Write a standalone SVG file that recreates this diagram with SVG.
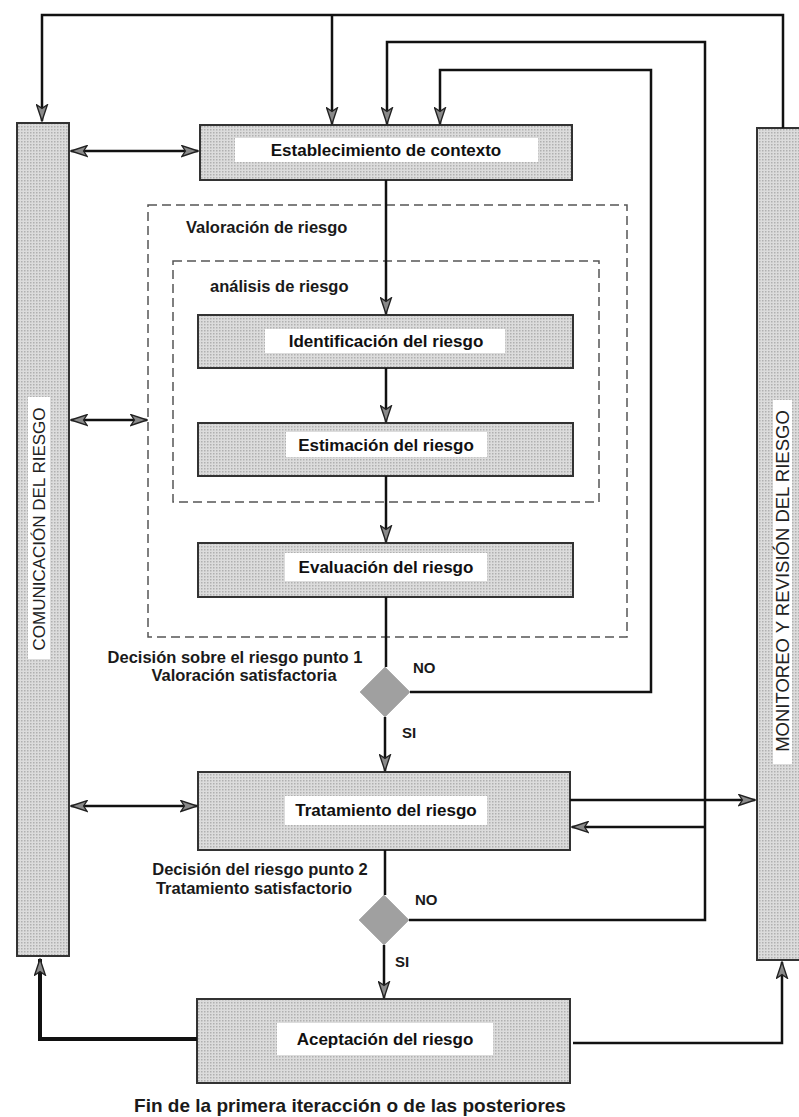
<svg xmlns="http://www.w3.org/2000/svg" width="799" height="1117" viewBox="0 0 799 1117">
<defs>
<pattern id="dots" width="3" height="3" patternUnits="userSpaceOnUse">
<rect width="3" height="3" fill="#dcdcdc"/>
<rect width="1.5" height="1.5" fill="#b0b0b0"/>
</pattern>
<marker id="ah" viewBox="0 0 20 14" refX="19" refY="7" markerWidth="18" markerHeight="13" orient="auto-start-reverse" markerUnits="userSpaceOnUse">
<path d="M1,1 L19,7 L1,13 L5,7 z" fill="#8a8a8a" stroke="#222" stroke-width="1.5"/>
</marker>
</defs>
<style>
.box{fill:url(#dots);stroke:#333;stroke-width:2}
.lbl{fill:#fff;stroke:none}
.t{font-family:"Liberation Sans",Arial,sans-serif;font-weight:bold;font-size:17px;fill:#111;text-anchor:middle}
.s{font-family:"Liberation Sans",Arial,sans-serif;font-weight:bold;font-size:16.5px;fill:#1a1a1a}
.n{font-family:"Liberation Sans",Arial,sans-serif;font-weight:bold;font-size:15px;fill:#1a1a1a}
.f{font-family:"Liberation Sans",Arial,sans-serif;font-weight:bold;font-size:19px;fill:#1a1a1a;text-anchor:middle}
.v{font-family:"Liberation Sans",Arial,sans-serif;font-size:17px;fill:#222;text-anchor:middle}
.c{fill:none;stroke:#111;stroke-width:2.5}
.dash{fill:none;stroke:#555;stroke-width:1.5;stroke-dasharray:9 5}
.dia{fill:#a0a0a0;stroke:#b0b0b0;stroke-width:1}
</style>
<rect width="799" height="1117" fill="#fff"/>

<g id="groups">
<rect class="dash" x="148" y="205" width="479" height="432"/>
<text class="s" x="186" y="233">Valoración de riesgo</text>
<rect class="dash" x="173" y="261" width="426" height="241"/>
<text class="s" x="210" y="292">análisis de riesgo</text>
</g>

<g id="comunicacion">
<rect class="box" x="17" y="123" width="52" height="833"/>
<rect class="lbl" x="28" y="397" width="22" height="262"/>
<text class="v" transform="translate(45,529) rotate(-90)">COMUNICACIÓN DEL RIESGO</text>
</g>

<g id="monitoreo">
<rect class="box" x="757" y="128" width="50" height="832"/>
<rect class="lbl" x="773" y="400" width="19" height="364"/>
<text class="v" style="font-size:18.5px" transform="translate(789,581) rotate(-90)">MONITOREO Y REVISIÓN DEL RIESGO</text>
</g>

<g id="establecimiento">
<rect class="box" x="200" y="125" width="372" height="55"/>
<rect class="lbl" x="235" y="138" width="303" height="24"/>
<text class="t" x="386" y="156">Establecimiento de contexto</text>
</g>

<g id="identificacion">
<rect class="box" x="198" y="315" width="375" height="53"/>
<rect class="lbl" x="265" y="329" width="240" height="24"/>
<text class="t" x="386" y="347">Identificación del riesgo</text>
</g>

<g id="estimacion">
<rect class="box" x="198" y="423" width="375" height="53"/>
<rect class="lbl" x="286" y="432" width="201" height="25"/>
<text class="t" x="386" y="451">Estimación del riesgo</text>
</g>

<g id="evaluacion">
<rect class="box" x="198" y="543" width="375" height="54"/>
<rect class="lbl" x="285" y="553" width="202" height="28"/>
<text class="t" x="386" y="573">Evaluación del riesgo</text>
</g>

<g id="decision1">
<polygon class="dia" points="385,667 410,692 385,717 360,692"/>
<text class="s" x="235" y="663" text-anchor="middle">Decisión sobre el riesgo punto 1</text>
<text class="s" x="244" y="681" text-anchor="middle">Valoración satisfactoria</text>
</g>

<g id="tratamiento">
<rect class="box" x="198" y="772" width="372" height="78"/>
<rect class="lbl" x="285" y="796" width="202" height="29"/>
<text class="t" x="386" y="816">Tratamiento del riesgo</text>
</g>

<g id="decision2">
<polygon class="dia" points="384,895 409,920 384,945 359,920"/>
<text class="s" x="260" y="875" text-anchor="middle">Decisión del riesgo punto 2</text>
<text class="s" x="254" y="894" text-anchor="middle">Tratamiento satisfactorio</text>
</g>

<g id="aceptacion">
<rect class="box" x="197" y="999" width="373" height="84"/>
<rect class="lbl" x="277" y="1023" width="216" height="32"/>
<text class="t" x="385" y="1045">Aceptación del riesgo</text>
</g>

<g id="connectors">
<path class="c" d="M783,128 V15 H42 V121" marker-end="url(#ah)"/>
<path class="c" d="M332,15 V124" marker-end="url(#ah)"/>
<path class="c" d="M409,920 H705 V42 H387 V124" marker-end="url(#ah)"/>
<path class="c" d="M410,692 H651 V70 H440 V124" marker-end="url(#ah)"/>
<path class="c" d="M705,827 H572" marker-end="url(#ah)"/>
<path class="c" d="M570,800 H755" marker-end="url(#ah)"/>
<path class="c" d="M71,151 H198" marker-start="url(#ah)" marker-end="url(#ah)"/>
<path class="c" d="M71,420 H147" marker-start="url(#ah)" marker-end="url(#ah)"/>
<path class="c" d="M71,806 H197" marker-start="url(#ah)" marker-end="url(#ah)"/>
<path class="c" d="M386,180 V314" marker-end="url(#ah)"/>
<path class="c" d="M386,368 V422" marker-end="url(#ah)"/>
<path class="c" d="M386,476 V542" marker-end="url(#ah)"/>
<path class="c" d="M386,597 V667"/>
<path class="c" d="M385,717 V771" marker-end="url(#ah)"/>
<path class="c" d="M385,850 V895"/>
<path class="c" d="M384,945 V998" marker-end="url(#ah)"/>
<path class="c" style="stroke-width:4" d="M197,1039 H40 V959" marker-end="url(#ah)"/>
<path class="c" d="M573,1043 H782 V962" marker-end="url(#ah)"/>
</g>

<g id="labels">
<text class="n" x="413" y="673">NO</text>
<text class="n" x="402" y="738">SI</text>
<text class="n" x="415" y="905">NO</text>
<text class="n" x="395" y="967">SI</text>
<text class="f" x="350" y="1112">Fin de la primera iteracción o de las posteriores</text>
</g>
</svg>
